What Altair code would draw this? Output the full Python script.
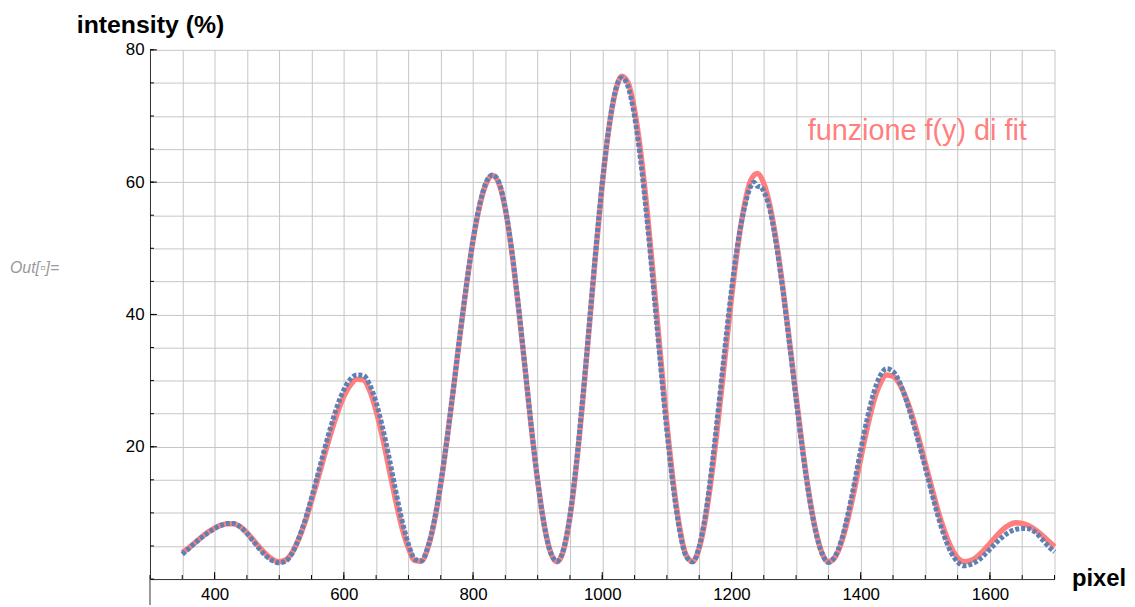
import altair as alt
import pandas as pd

# ---- data ----
fit_x = list(range(350, 1701, 10))
fit_y = [4.0, 4.7, 5.5, 6.35, 7.1, 7.7, 8.15, 8.37, 8.34, 7.9,
         7.0, 5.9, 4.75, 3.7, 2.95, 2.62, 2.9, 4.0, 6.0, 8.6,
         11.8, 15.2, 18.7, 22.1, 25.1, 27.6, 29.3, 30.2, 30.1, 28.5,
         25.45, 21.4, 16.7, 12.0, 7.8, 4.7, 2.8, 2.7, 4.7, 8.6,
         14.3, 21.3, 29.0, 37.0, 44.5, 51.15, 56.3, 59.7, 61.0, 59.8,
         55.9, 49.5, 41.35, 32.3, 23.1, 14.9, 8.3, 4.06, 2.6, 4.33,
         9.3, 17.2, 27.15, 38.2, 49.4, 59.6, 67.9, 73.5, 76.0, 75.0,
         70.9, 64.1, 55.1, 44.7, 33.9, 23.5, 14.6, 7.7, 3.6, 2.65,
         4.65, 9.3, 16.15, 24.5, 33.55, 42.5, 50.4, 56.5, 60.3, 61.3,
         59.8, 56.2, 50.7, 43.7, 35.8, 27.7, 19.8, 12.9, 7.5, 3.97,
         2.61, 3.26, 5.47, 9.0, 13.4, 18.2, 22.8, 26.8, 29.5, 30.85,
         30.65, 29.5, 27.4, 24.6, 21.2, 17.5, 13.8, 10.2, 7.2, 4.76,
         3.2, 2.6, 2.78, 3.36, 4.28, 5.38, 6.5, 7.5, 8.2, 8.5,
         8.4, 8.06, 7.47, 6.7, 5.8, 4.9]

data_x = list(range(350, 1701, 10)) + [1235, 1245]
data_y = [3.75, 4.6, 5.5, 6.3, 7.0, 7.65, 8.1, 8.4, 8.4, 7.85,
          6.9, 5.7, 4.5, 3.45, 2.75, 2.45, 2.7, 3.9, 6.1, 8.9,
          12.3, 15.9, 19.6, 23.1, 26.2, 28.6, 30.2, 30.85, 30.8, 29.4,
          26.7, 22.9, 18.4, 13.5, 8.9, 5.3, 3.0, 2.75, 4.8, 8.8,
          14.5, 21.4, 29.1, 37.1, 44.6, 51.3, 56.5, 59.9, 61.1, 60.0,
          56.0, 49.6, 41.5, 32.4, 23.2, 14.9, 8.2, 4.0, 2.7, 4.5,
          9.6, 17.6, 27.6, 38.6, 49.8, 59.9, 68.1, 73.7, 75.8, 74.4,
          69.9, 62.8, 53.6, 43.2, 32.5, 22.4, 13.8, 7.2, 3.4, 2.6,
          4.9, 9.9, 17.3, 26.0, 35.1, 43.7, 50.9, 56.1, 59.4, 59.4,
          58.6, 55.6, 50.2, 43.3, 35.4, 27.2, 19.4, 12.6, 7.3, 3.9,
          2.5, 3.4, 5.8, 9.7, 14.4, 19.5, 24.2, 28.1, 30.7, 31.8,
          31.4, 29.8, 27.2, 24.0, 20.5, 16.8, 13.0, 9.4, 6.3, 4.0,
          2.6, 2.0, 2.2, 2.7, 3.5, 4.5, 5.5, 6.4, 7.1, 7.5,
          7.65, 7.6, 7.1, 6.1, 5.0, 4.1] + [60.0, 59.3]

x_grid = list(range(300, 1701, 50))
x_labeled = [400, 600, 800, 1000, 1200, 1400, 1600]
y_grid = list(range(0, 81, 5))
y_labeled = [20, 40, 60, 80]

label_text = ["funzione f(y) di fit"]
label_x = [1318]
label_y = [66.3]

# ---- layout ----
W, H = 911, 533
RED = "#FF7F7F"
BLUE = "#5E81B5"
FONT = "Liberation Sans"

fit_df = pd.DataFrame({"x": fit_x, "y": fit_y})
data_df = pd.DataFrame({"x": data_x, "y": data_y}).sort_values("x")

xs = alt.Scale(domain=[300, 1700], nice=False, zero=False)
ys = alt.Scale(domain=[0, 80], nice=False, zero=False)

x_axis = alt.Axis(
    values=x_grid, format="d",
    labelExpr="(datum.value % 200 == 0 && datum.value >= 400 && datum.value <= 1600) ? datum.label : ''",
    grid=True, gridColor="#c6c6c6", gridWidth=1,
    domainColor="#333333", domainWidth=1,
    ticks=False, tickSize=0,
    labelFont=FONT, labelFontSize=17, labelColor="#000000", labelPadding=8,
    labelOverlap=False, labelFlush=False, labelBound=False,
    title="pixel", titleFont=FONT, titleFontSize=24, titleFontWeight="bold",
    titleColor="#000000", titleX=928, titleY=7, titleAlign="left",
    titleBaseline="alphabetic",
)
y_axis = alt.Axis(
    values=y_grid,
    labelExpr="(datum.value % 20 == 0 && datum.value > 0) ? datum.label : ''",
    grid=True, gridColor="#c6c6c6", gridWidth=1,
    domainColor="#333333", domainWidth=1,
    ticks=False, tickSize=0,
    labelFont=FONT, labelFontSize=17, labelColor="#000000", labelPadding=6,
    labelOverlap=False, labelFlush=False, labelBound=False,
    title="intensity (%)", titleFont=FONT, titleFontSize=25, titleFontWeight="bold",
    titleColor="#000000", titleAngle=0, titleX=0, titleY=-17, titleAlign="center",
    titleBaseline="alphabetic",
)


def X(field="x"):
    return alt.X(f"{field}:Q", scale=xs, axis=x_axis)


def Y(field="y"):
    return alt.Y(f"{field}:Q", scale=ys, axis=y_axis)


fit = alt.Chart(fit_df).mark_line(
    color=RED, strokeWidth=5.5, interpolate="monotone"
).encode(x=X(), y=Y())

data = alt.Chart(data_df).mark_line(
    color=BLUE, strokeWidth=5, strokeDash=[4, 2], interpolate="monotone"
).encode(x=X(), y=Y())

xt_major = alt.Chart(pd.DataFrame({"x": x_labeled})).mark_rule(color="#000000").encode(
    x=X(), y=alt.value(H), y2=alt.value(H - 7))
xt_minor = alt.Chart(pd.DataFrame({"x": x_grid})).mark_rule(color="#000000").encode(
    x=X(), y=alt.value(H), y2=alt.value(H - 4))
yt_major = alt.Chart(pd.DataFrame({"y": y_labeled})).mark_rule(color="#000000").encode(
    y=Y(), x=alt.value(0), x2=alt.value(7))
yt_minor = alt.Chart(pd.DataFrame({"y": y_grid})).mark_rule(color="#000000").encode(
    y=Y(), x=alt.value(0), x2=alt.value(4))

y_ext = alt.Chart(pd.DataFrame({"a": [0]})).mark_rule(color="#333333").encode(
    x=alt.value(0), y=alt.value(H), y2=alt.value(H + 30))

label = alt.Chart(pd.DataFrame({"x": label_x, "y": label_y, "t": label_text})).mark_text(
    align="left", baseline="alphabetic", font=FONT, fontSize=29, color=RED
).encode(x=X(), y=Y(), text="t:N")

out_label = alt.Chart(pd.DataFrame({"t": ["Out[\u25ab]="]})).mark_text(
    align="left", baseline="middle", font=FONT, fontSize=16, fontStyle="italic",
    color="#9a9a9a"
).encode(x=alt.value(-141), y=alt.value(220), text="t:N")

chart = alt.layer(
    fit, data, xt_minor, xt_major, yt_minor, yt_major, y_ext, label, out_label
).properties(
    width=W, height=H,
    autosize=alt.AutoSizeParams(type="none"),
    padding={"left": 143, "top": 40, "right": 73, "bottom": 24},
).configure_view(stroke=None)

chart.save("out.html", embed_options={"renderer": "svg", "actions": False})
